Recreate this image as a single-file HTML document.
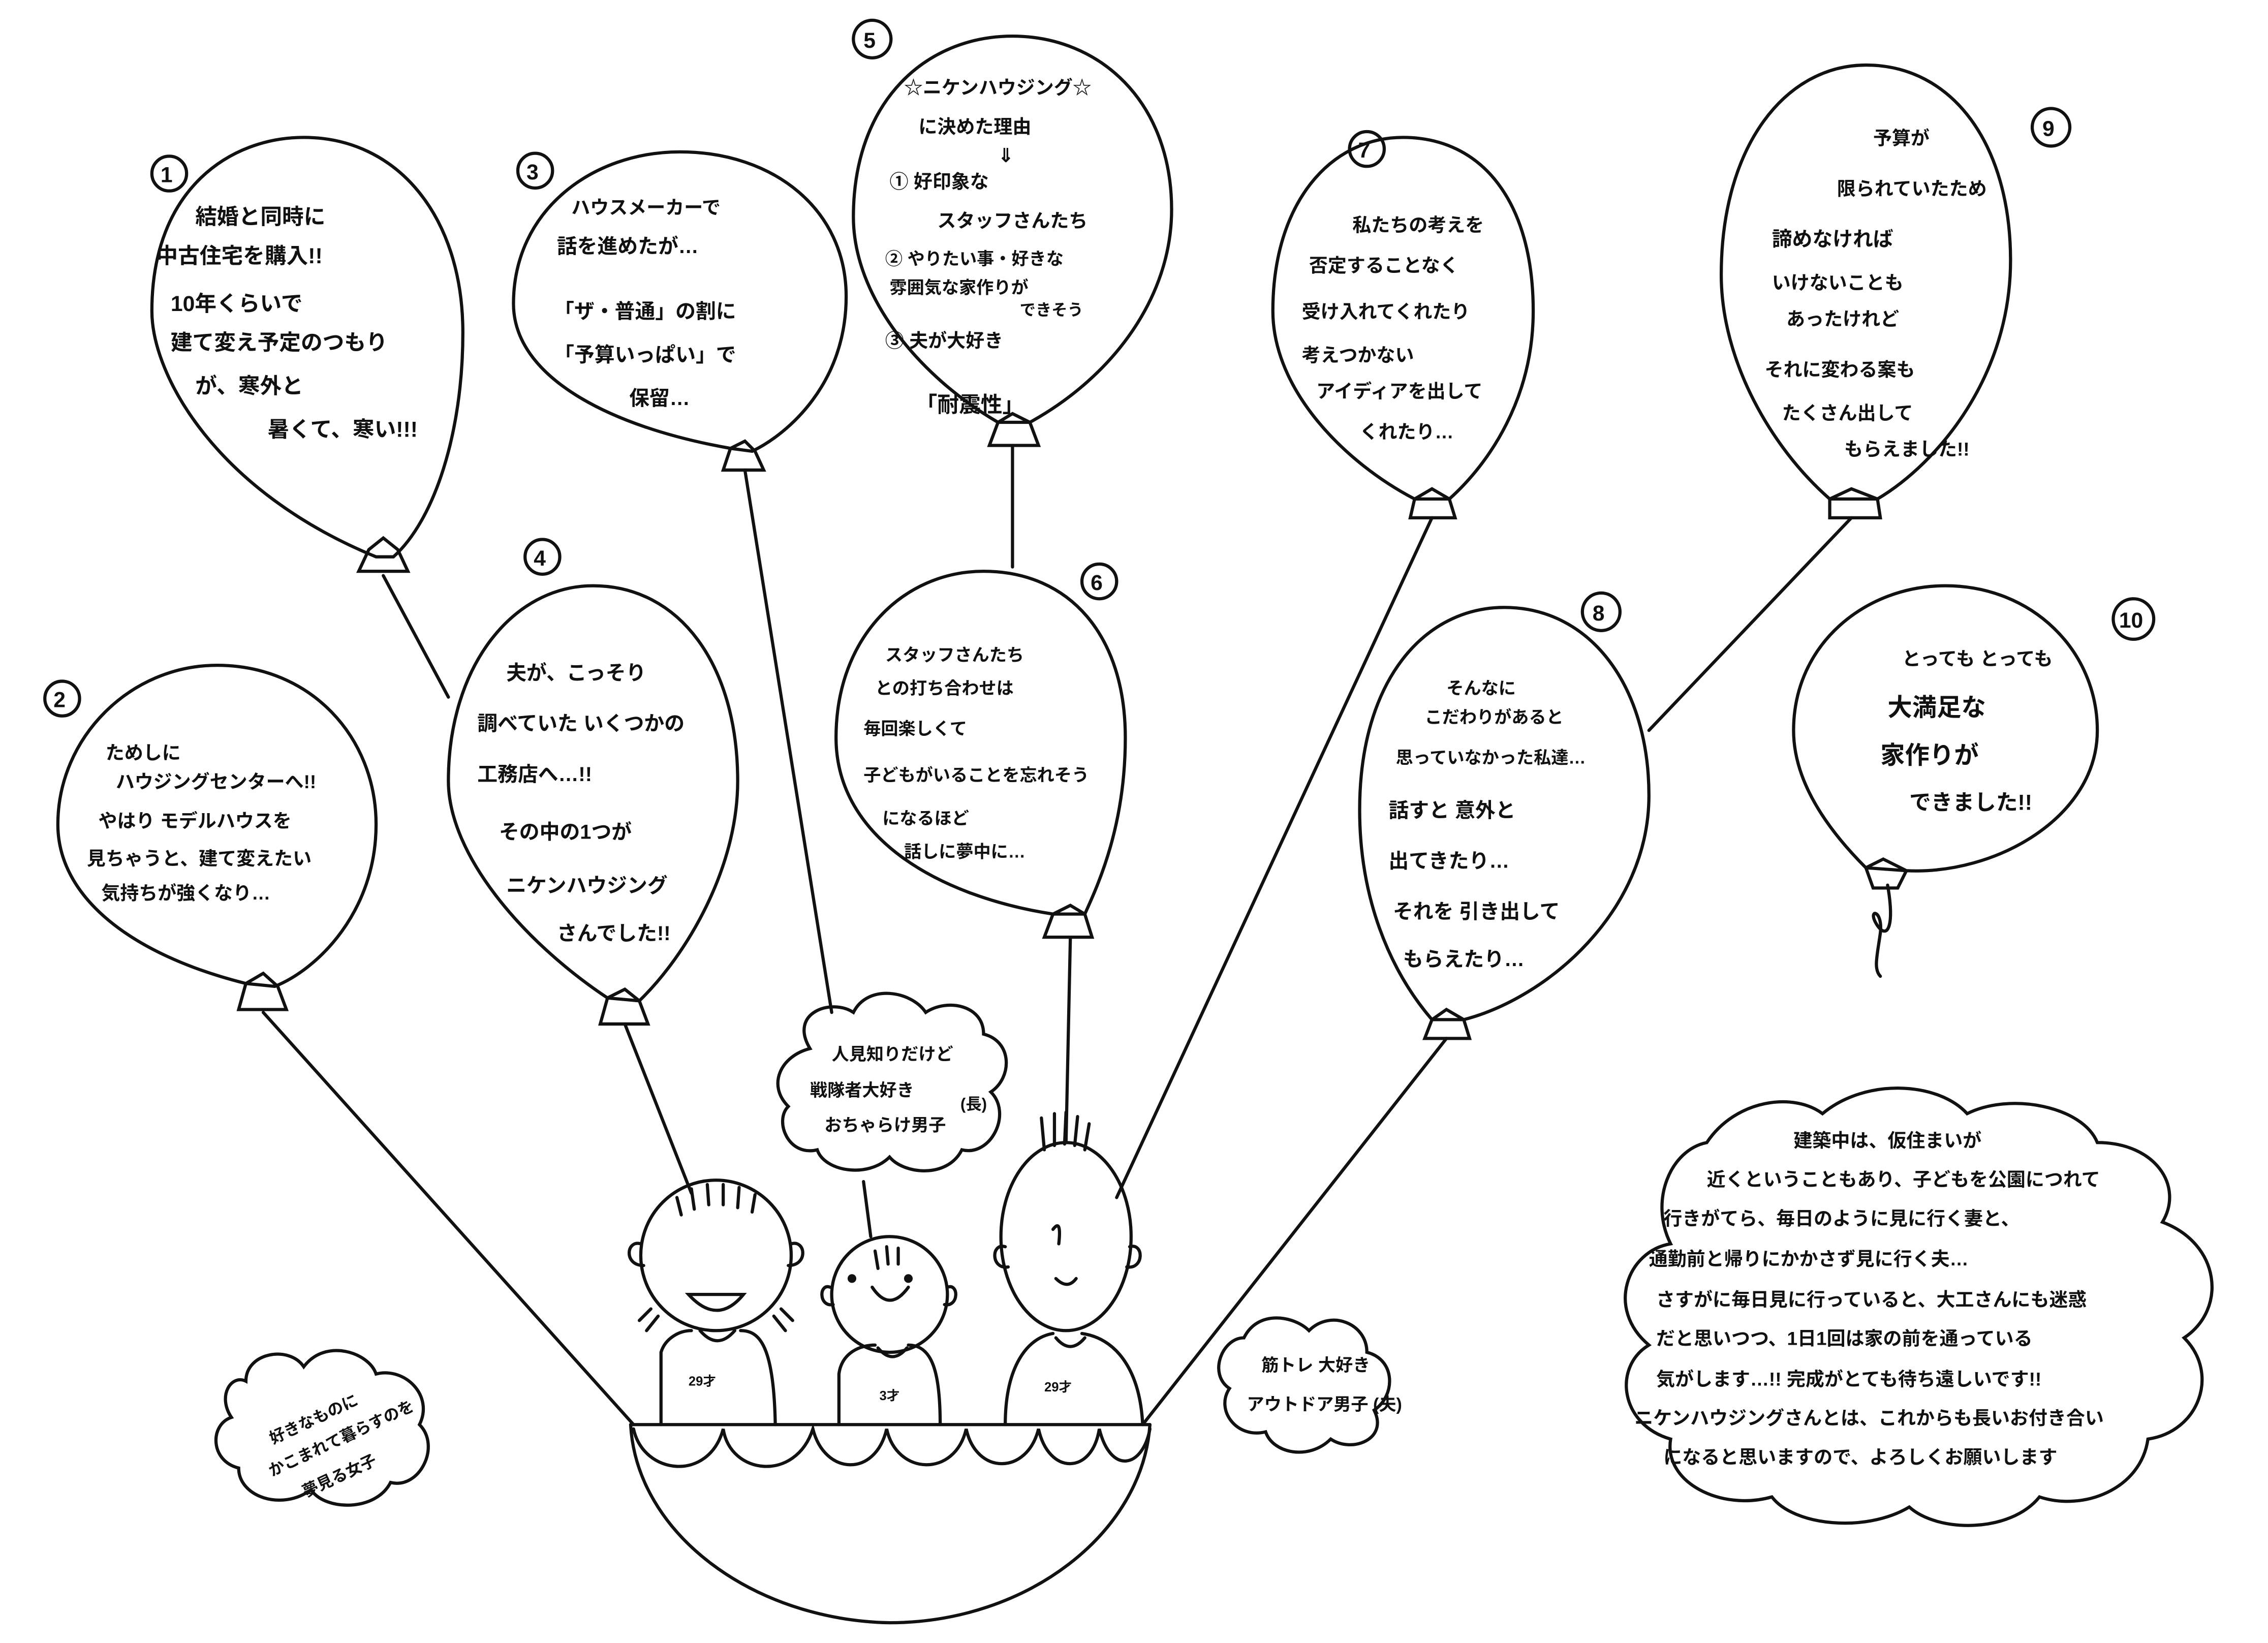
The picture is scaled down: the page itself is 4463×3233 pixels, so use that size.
<!DOCTYPE html>
<html><head><meta charset="utf-8"><style>
html,body{margin:0;padding:0;background:#fff;}
svg{display:block;}
text{font-family:"Liberation Sans","Noto Sans CJK JP",sans-serif;fill:#111;font-weight:bold;}
</style></head><body>
<svg width="4463" height="3233" viewBox="0 0 1568 1136" preserveAspectRatio="none" xmlns="http://www.w3.org/2000/svg">
<rect width="1568" height="1136" fill="#fff"/>
<g fill="none" stroke="#111" stroke-width="2.2" stroke-linecap="round">
<line x1="265" y1="398" x2="310" y2="482"/>
<line x1="182" y1="700" x2="438" y2="985"/>
<line x1="515" y1="325" x2="575" y2="700"/>
<line x1="432" y1="708" x2="478" y2="825"/>
<line x1="700" y1="308" x2="700" y2="392"/>
<line x1="740" y1="648" x2="737" y2="790"/>
<line x1="990" y1="358" x2="772" y2="828"/>
<line x1="1000" y1="718" x2="790" y2="985"/>
<line x1="1280" y1="358" x2="1140" y2="505"/>
<line x1="597" y1="817" x2="602" y2="855"/>
<path d="M1305 612 C1310 640 1305 650 1298 640 C1290 628 1302 628 1300 645 C1298 660 1295 670 1300 675"/>
<path d="M260 385 C150 340 105 260 105 215 C105 130 160 95 210 95 C275 95 320 150 320 230 C320 300 300 360 272 385 Z"/>
<path d="M255 380 L265 372 L275 380 L282 395 L248 395 Z"/>
<path d="M170 680 C90 660 40 620 40 570 C40 510 90 460 150 460 C215 460 260 510 260 570 C260 630 220 670 190 682 Z"/>
<path d="M170 680 L182 673 L192 682 L198 698 L165 698 Z"/>
<path d="M505 310 C420 295 355 260 355 210 C355 145 410 105 470 105 C535 105 585 145 585 205 C585 265 545 300 520 312 Z"/>
<path d="M505 310 L515 305 L522 312 L528 325 L500 325 Z"/>
<path d="M420 690 C360 650 310 590 310 540 C310 460 355 405 410 405 C470 405 510 460 510 540 C510 600 475 660 442 692 Z"/>
<path d="M420 690 L432 684 L442 692 L448 708 L415 708 Z"/>
<path d="M690 292 C635 260 590 205 590 150 C590 70 640 25 700 25 C760 25 810 70 810 145 C810 205 770 260 712 292 Z"/>
<path d="M690 292 L700 286 L712 292 L718 308 L684 308 Z"/>
<path d="M728 632 C650 620 578 580 578 510 C578 440 625 395 680 395 C740 395 778 440 778 510 C778 570 760 610 750 632 Z"/>
<path d="M728 632 L740 626 L750 632 L755 648 L722 648 Z"/>
<path d="M978 345 C930 320 880 270 880 215 C880 140 920 95 970 95 C1025 95 1060 140 1060 215 C1060 275 1030 320 1002 345 Z"/>
<path d="M978 345 L990 338 L1002 345 L1006 358 L975 358 Z"/>
<path d="M990 705 C960 670 940 620 940 560 C940 470 985 420 1040 420 C1100 420 1140 475 1140 550 C1140 630 1070 690 1012 705 Z"/>
<path d="M990 705 L1000 698 L1012 705 L1016 718 L985 718 Z"/>
<path d="M1265 345 C1225 310 1190 250 1190 190 C1190 100 1235 45 1290 45 C1350 45 1390 100 1390 180 C1390 260 1340 320 1298 345 Z"/>
<path d="M1265 345 L1280 338 L1298 345 L1300 358 L1265 358 Z"/>
<path d="M1290 600 C1270 580 1240 545 1240 505 C1240 445 1290 405 1345 405 C1405 405 1450 450 1450 505 C1450 565 1380 605 1318 602 Z"/>
<path d="M1290 600 L1302 594 L1318 602 L1312 614 L1295 614 Z"/>
<path d="M560 725 C545 700 575 690 590 700 C600 680 630 685 640 700 C655 690 680 695 680 715 C700 720 700 745 685 755 C700 770 685 800 665 795 C655 815 625 812 615 800 C600 815 570 810 565 795 C545 800 535 775 545 765 C530 750 540 730 560 725 Z"/>
<path d="M170 955 C170 935 200 930 210 945 C225 925 255 935 260 950 C280 945 300 965 290 985 C305 1000 290 1030 270 1025 C260 1045 225 1045 215 1030 C195 1045 165 1035 165 1015 C145 1010 145 985 160 980 C150 965 160 950 170 955 Z"/>
<path d="M860 925 C870 905 895 910 905 920 C920 905 945 915 945 935 C965 940 965 965 950 975 C960 995 935 1005 920 995 C905 1010 880 1005 875 990 C855 995 840 975 850 960 C835 950 845 925 860 925 Z"/>
<path d="M1180 790 C1200 760 1240 755 1260 770 C1290 745 1340 748 1360 770 C1390 755 1440 765 1450 790 C1490 790 1510 820 1495 845 C1535 860 1540 905 1510 925 C1535 950 1520 990 1485 995 C1480 1030 1440 1045 1410 1035 C1390 1060 1340 1060 1320 1042 C1290 1060 1240 1055 1225 1035 C1190 1045 1150 1025 1155 995 C1120 985 1115 945 1140 930 C1110 905 1125 865 1155 860 C1140 830 1155 795 1180 790 Z"/>
<circle cx="117" cy="120" r="12"/><circle cx="43" cy="483" r="12"/><circle cx="370" cy="118" r="12"/>
<circle cx="375" cy="385" r="12"/><circle cx="603" cy="27" r="13"/><circle cx="760" cy="402" r="12"/>
<circle cx="945" cy="103" r="12"/><circle cx="1107" cy="423" r="13"/><circle cx="1418" cy="88" r="13"/><circle cx="1475" cy="428" r="14"/>
<path d="M436 985 L795 985"/>
<path d="M436 985 C440 1060 520 1120 615 1122 C710 1122 790 1060 795 985"/>
<path d="M438 988 C445 1020 490 1025 500 988 C505 1020 550 1025 562 988 C570 1020 605 1022 613 988 C620 1020 660 1022 668 988 C675 1020 710 1020 718 988 C725 1020 755 1020 760 988 C768 1020 790 1015 795 988"/>
<circle cx="495" cy="868" r="52"/>
<path d="M468 828 l3 12 M478 822 l2 14 M489 819 l1 14 M500 819 l0 14 M511 821 l-1 14 M522 826 l-2 12"/>
<path d="M450 905 l-8 8 M455 910 l-8 10 M540 905 l8 8 M535 910 l8 10"/>
<path d="M443 860 c-10 -3 -12 15 2 15 M547 860 c10 -3 12 15 -2 15"/>
<path d="M476 895 q20 22 38 0 z"/>
<path d="M457 935 C460 925 470 920 478 920 M512 920 C525 920 535 930 536 985 M457 935 L457 985"/>
<path d="M484 920 q12 14 24 0"/>
<circle cx="615" cy="895" r="40"/>
<path d="M603 890 q12 18 25 0"/>
<path d="M605 865 l2 12 M613 862 l1 12 M621 863 l0 11"/>
<path d="M580 950 C582 935 595 930 605 930 M628 930 C645 930 650 950 650 985 M580 950 L580 985"/>
<path d="M607 932 q10 12 20 0"/>
<path d="M574 890 c-8 -3 -8 14 2 12 M655 890 c8 -3 8 14 -2 12"/>
<ellipse cx="737" cy="855" rx="45" ry="65"/>
<path d="M722 795 l-2 -22 M729 792 l0 -22 M736 791 l1 -22 M743 792 l2 -20 M750 795 l3 -18"/>
<path d="M695 862 c-10 -3 -10 16 2 14 M781 862 c10 -3 10 16 -2 14"/>
<path d="M730 884 q8 8 14 0"/>
<path d="M728 850 q6 -8 4 10"/>
<path d="M695 985 C695 945 710 925 728 922 M748 922 C770 925 788 945 790 985"/>
<path d="M730 925 q10 12 20 0"/>
</g>
<g fill="#111"><circle cx="589" cy="884" r="3"/><circle cx="628" cy="884" r="3"/></g>
<g font-size="15">
<text x="111" y="126">1</text><text x="37" y="489">2</text><text x="364" y="124">3</text><text x="369" y="391">4</text>
<text x="597" y="33">5</text><text x="754" y="408">6</text><text x="939" y="109">7</text><text x="1101" y="429">8</text><text x="1412" y="94">9</text><text x="1465" y="434">10</text>
</g>
<g font-size="15">
<text x="135" y="155">結婚と同時に</text><text x="108" y="182">中古住宅を購入!!</text><text x="118" y="215">10年くらいで</text><text x="118" y="242">建て変え予定のつもり</text><text x="135" y="272">が、寒外と</text><text x="185" y="302">暑くて、寒い!!!</text>
<text x="73" y="525" font-size="13">ためしに</text><text x="80" y="545" font-size="13">ハウジングセンターへ!!</text><text x="68" y="572" font-size="13">やはり モデルハウスを</text><text x="60" y="598" font-size="13">見ちゃうと、建て変えたい</text><text x="70" y="622" font-size="13">気持ちが強くなり…</text>
<text x="395" y="148" font-size="13">ハウスメーカーで</text><text x="385" y="175" font-size="14">話を進めたが…</text><text x="383" y="220" font-size="14">「ザ・普通」の割に</text><text x="383" y="250" font-size="14">「予算いっぱい」で</text><text x="435" y="280" font-size="14">保留…</text>
<text x="350" y="470" font-size="14">夫が、こっそり</text><text x="330" y="505" font-size="14">調べていた いくつかの</text><text x="330" y="540" font-size="14">工務店へ…!!</text><text x="345" y="580" font-size="14">その中の1つが</text><text x="350" y="617" font-size="14">ニケンハウジング</text><text x="385" y="650" font-size="14">さんでした!!</text>
<text x="625" y="65" font-size="13">☆ニケンハウジング☆</text><text x="635" y="92" font-size="13">に決めた理由</text><text x="690" y="112" font-size="13">⇓</text><text x="615" y="130" font-size="13">① 好印象な</text><text x="648" y="157" font-size="13">スタッフさんたち</text><text x="612" y="183" font-size="12">② やりたい事・好きな</text><text x="615" y="203" font-size="12">雰囲気な家作りが</text><text x="705" y="218" font-size="11">できそう</text><text x="612" y="240" font-size="13">③ 夫が大好き</text><text x="633" y="285" font-size="15">「耐震性」</text>
<text x="612" y="457" font-size="12">スタッフさんたち</text><text x="605" y="480" font-size="12">との打ち合わせは</text><text x="597" y="508" font-size="12">毎回楽しくて</text><text x="597" y="540" font-size="12">子どもがいることを忘れそう</text><text x="610" y="570" font-size="12">になるほど</text><text x="625" y="593" font-size="12">話しに夢中に…</text>
<text x="935" y="160" font-size="13">私たちの考えを</text><text x="905" y="188" font-size="13">否定することなく</text><text x="900" y="220" font-size="13">受け入れてくれたり</text><text x="900" y="250" font-size="13">考えつかない</text><text x="910" y="275" font-size="13">アイディアを出して</text><text x="940" y="303" font-size="13">くれたり…</text>
<text x="1000" y="480" font-size="12">そんなに</text><text x="985" y="500" font-size="12">こだわりがあると</text><text x="965" y="528" font-size="12">思っていなかった私達…</text><text x="960" y="565" font-size="14">話すと 意外と</text><text x="960" y="600" font-size="14">出てきたり…</text><text x="963" y="635" font-size="14">それを 引き出して</text><text x="970" y="668" font-size="14">もらえたり…</text>
<text x="1295" y="100" font-size="13">予算が</text><text x="1270" y="135" font-size="13">限られていたため</text><text x="1225" y="170" font-size="14">諦めなければ</text><text x="1225" y="200" font-size="13">いけないことも</text><text x="1235" y="225" font-size="13">あったけれど</text><text x="1220" y="260" font-size="13">それに変わる案も</text><text x="1232" y="290" font-size="13">たくさん出して</text><text x="1275" y="315" font-size="13">もらえました!!</text>
<text x="1315" y="460" font-size="13">とっても とっても</text><text x="1305" y="495" font-size="17">大満足な</text><text x="1300" y="528" font-size="17">家作りが</text><text x="1320" y="560" font-size="15">できました!!</text>
<text x="575" y="733" font-size="12">人見知りだけど</text><text x="560" y="758" font-size="12">戦隊者大好き</text><text x="570" y="782" font-size="12">おちゃらけ男子</text><text x="664" y="767" font-size="11">(長)</text>
<text x="190" y="985" font-size="11" transform="rotate(-25 220 995)">好きなものに</text><text x="180" y="1005" font-size="11" transform="rotate(-25 220 995)">かこまれて暮らすのを</text><text x="195" y="1028" font-size="11" transform="rotate(-25 220 995)">夢見る女子</text>
<text x="872" y="948" font-size="12">筋トレ 大好き</text><text x="862" y="975" font-size="12">アウトドア男子 (夫)</text>
<text x="1240" y="793" font-size="13">建築中は、仮住まいが</text><text x="1180" y="820" font-size="13">近くということもあり、子どもを公園につれて</text><text x="1150" y="847" font-size="13">行きがてら、毎日のように見に行く妻と、</text><text x="1140" y="875" font-size="13">通勤前と帰りにかかさず見に行く夫…</text><text x="1145" y="903" font-size="13">さすがに毎日見に行っていると、大工さんにも迷惑</text><text x="1145" y="930" font-size="13">だと思いつつ、1日1回は家の前を通っている</text><text x="1145" y="958" font-size="13">気がします…!! 完成がとても待ち遠しいです!!</text><text x="1130" y="985" font-size="13">ニケンハウジングさんとは、これからも長いお付き合い</text><text x="1150" y="1012" font-size="13">になると思いますので、よろしくお願いします</text>
<text x="476" y="958" font-size="9">29才</text><text x="608" y="968" font-size="9">3才</text><text x="722" y="962" font-size="9">29才</text>
</g>
</svg>
</body></html>
